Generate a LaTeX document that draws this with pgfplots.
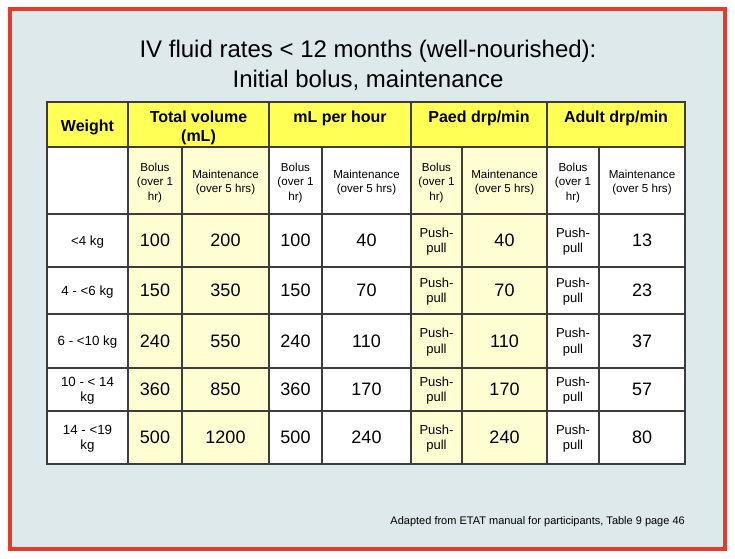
\documentclass[border=0pt]{standalone}
\usepackage{pgfplots}
\pgfplotsset{compat=1.18}
\usepackage{fontspec}
\setmainfont{Liberation Sans}
\definecolor{bgc}{HTML}{DDE9EB}
\definecolor{redc}{HTML}{E53B2F}
\definecolor{hdr}{HTML}{FFFF55}
\definecolor{lyel}{HTML}{FFFDD2}
\definecolor{gridc}{HTML}{3C3C3C}
\newcommand{\tx}[4]{\node[anchor=base,inner sep=0pt] at (axis cs:#1,#2) {\fontsize{#3}{#3}\selectfont #4};}
\newcommand{\bx}[4]{\node[anchor=base,inner sep=0pt] at (axis cs:#1,#2) {\fontsize{#3}{#3}\selectfont\bfseries #4};}
\newcommand{\bolus}[1]{\tx{#1}{171}{11.6}{Bolus}\tx{#1}{185.5}{11.6}{(over 1}\tx{#1}{200}{11.6}{hr)}}
\newcommand{\maint}[1]{\tx{#1}{178}{11.6}{Maintenance}\tx{#1}{192.5}{11.6}{(over 5 hrs)}}
\newcommand{\pp}[3]{\tx{#1}{#2}{13}{Push-}\tx{#1}{#3}{13}{pull}}
\newcommand{\hl}[1]{\draw[gridc, line width=1.1pt] (axis cs:47,#1) -- (axis cs:685,#1);}
\newcommand{\vl}[2]{\draw[gridc, line width=1.1pt] (axis cs:#1,#2) -- (axis cs:#1,464);}
\begin{document}
\begin{tikzpicture}
\begin{axis}[scale only axis, width=735pt, height=558pt,
  xmin=0, xmax=735, ymin=0, ymax=558, y dir=reverse,
  hide axis, clip=false]
\fill[white] (axis cs:0,0) rectangle (axis cs:735,558);
\fill[bgc] (axis cs:10,9) rectangle (axis cs:725,549);
\draw[redc, line width=4pt] (axis cs:10,9) rectangle (axis cs:725,549);
% cell fills
\fill[hdr] (axis cs:47,102) rectangle (axis cs:685,147);
\fill[white] (axis cs:47,147) rectangle (axis cs:685,464);
\fill[lyel] (axis cs:128,147) rectangle (axis cs:269,464);
\fill[lyel] (axis cs:411,147) rectangle (axis cs:547,464);
% grid
\hl{147}\hl{214}\hl{267}\hl{314}\hl{368}\hl{411}
\vl{128}{102}\vl{269}{102}\vl{411}{102}\vl{547}{102}
\vl{182}{147}\vl{322}{147}\vl{462}{147}\vl{599}{147}
\draw[gridc, line width=1.3pt] (axis cs:47,102) rectangle (axis cs:685,464);
% title
\tx{368}{57}{24}{IV fluid rates < 12 months (well-nourished):}
\tx{368}{87}{24}{Initial bolus, maintenance}
% headers
\bx{87.5}{131}{16}{Weight}
\bx{198.5}{122}{16}{Total volume}
\bx{198.5}{141}{16}{(mL)}
\bx{340}{122}{16}{mL per hour}
\bx{479}{122}{16}{Paed drp/min}
\bx{616}{122}{16}{Adult drp/min}
% subheaders
\bolus{155}\maint{225.5}
\bolus{295.5}\maint{366.5}
\bolus{436.5}\maint{504.5}
\bolus{573}\maint{642}
% weight labels
\tx{87.5}{245.2}{13.3}{<4 kg}
\tx{87.5}{295.2}{13.3}{4 - <6 kg}
\tx{87.5}{345.7}{13.3}{6 - <10 kg}
\tx{87.5}{386.5}{13.3}{10 - < 14}
\tx{87.5}{401.5}{13.3}{kg}
\tx{87.5}{434.5}{13.3}{14 - <19}
\tx{87.5}{449.5}{13.3}{kg}
% push-pull
\pp{436.5}{237}{252.5}\pp{573}{237}{252.5}
\pp{436.5}{287}{302.5}\pp{573}{287}{302.5}
\pp{436.5}{337.5}{353}\pp{573}{337.5}{353}
\pp{436.5}{386}{401.5}\pp{573}{386}{401.5}
\pp{436.5}{434}{449.5}\pp{573}{434}{449.5}
% numeric values
\addplot[draw=none, mark=none, nodes near coords, point meta=explicit symbolic,
  nodes near coords align={center},
  every node near coord/.append style={font=\fontsize{18}{18}\selectfont, inner sep=0pt, text=black}]
  coordinates {
  (155,240.5) [100] (155,290.5) [150] (155,341) [240] (155,389.5) [360] (155,437.5) [500]
  (225.5,240.5) [200] (225.5,290.5) [350] (225.5,341) [550] (225.5,389.5) [850] (225.5,437.5) [1200]
  (295.5,240.5) [100] (295.5,290.5) [150] (295.5,341) [240] (295.5,389.5) [360] (295.5,437.5) [500]
  (366.5,240.5) [40] (366.5,290.5) [70] (366.5,341) [110] (366.5,389.5) [170] (366.5,437.5) [240]
  (504.5,240.5) [40] (504.5,290.5) [70] (504.5,341) [110] (504.5,389.5) [170] (504.5,437.5) [240]
  (642,240.5) [13] (642,290.5) [23] (642,341) [37] (642,389.5) [57] (642,437.5) [80]
};
% footnote
\node[anchor=base east, inner sep=0pt] at (axis cs:685,524) {\fontsize{11}{11}\selectfont Adapted from ETAT manual for participants, Table 9 page 46};
\end{axis}
\end{tikzpicture}
\end{document}
